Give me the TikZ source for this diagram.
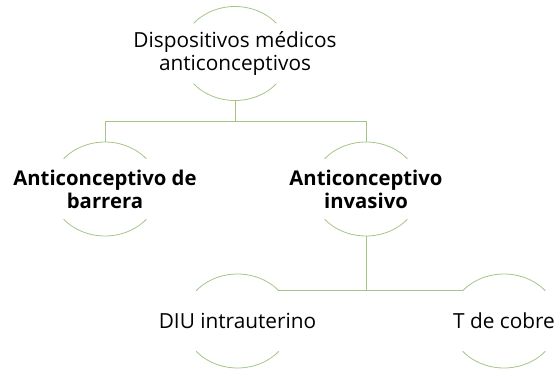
\documentclass[tikz,border=0pt]{standalone}
\usepackage{fontspec}
\setmainfont{Open Sans}
\usetikzlibrary{calc}
\definecolor{ramaverde}{RGB}{165,197,135}

\begin{document}
\begin{tikzpicture}[
         x=1pt, y=-1pt,
         nivel/.style={rectangle, minimum width=108pt, minimum height=94pt, inner sep=0pt,
            align=center, font=\fontsize{20.8}{23}\selectfont},
         tipo/.style={nivel, font=\fontsize{20.3}{23}\selectfont\bfseries},
         arco/.style={draw=ramaverde, line width=0.8pt},
         rama/.style={draw=ramaverde, line width=0.8pt}
      ]
         \useasboundingbox (0,0) rectangle (556,370);

         % Nodes for each level
         \node[nivel] (raiz) at (235,53.5) {Dispositivos médicos\\anticonceptivos};
         \node[tipo] (barrera) at (105,189) {Anticonceptivo de\\barrera};
         \node[tipo] (invasivo) at (366,189) {Anticonceptivo\\invasivo};
         \node[nivel] (diu) at (237.5,321) {DIU intrauterino};
         \node[nivel] (cobre) at (504,321) {T de cobre};

         % Half circle arcs above and below every node
         \foreach \n in {raiz,barrera,invasivo,diu,cobre}{
            \draw[arco] (\n.center) ++(140:54pt and 47pt) coordinate (\n-tl)
               arc[start angle=140, end angle=40, x radius=54pt, y radius=47pt] coordinate (\n-tr);
            \draw[arco] (\n.center) ++(220:54pt and 47pt)
               arc[start angle=220, end angle=320, x radius=54pt, y radius=47pt];
         }

         % Branches
         \draw[rama] (raiz.south) -- ++(0,21) coordinate (cruce);
         \draw[rama] (cruce) -| (barrera.north);
         \draw[rama] (cruce) -| (invasivo.north);
         \draw[rama] (diu-tr) -- (cobre-tl);
         \draw[rama] (invasivo.south) -- (invasivo.south |- diu-tr);
      \end{tikzpicture}
\end{document}
